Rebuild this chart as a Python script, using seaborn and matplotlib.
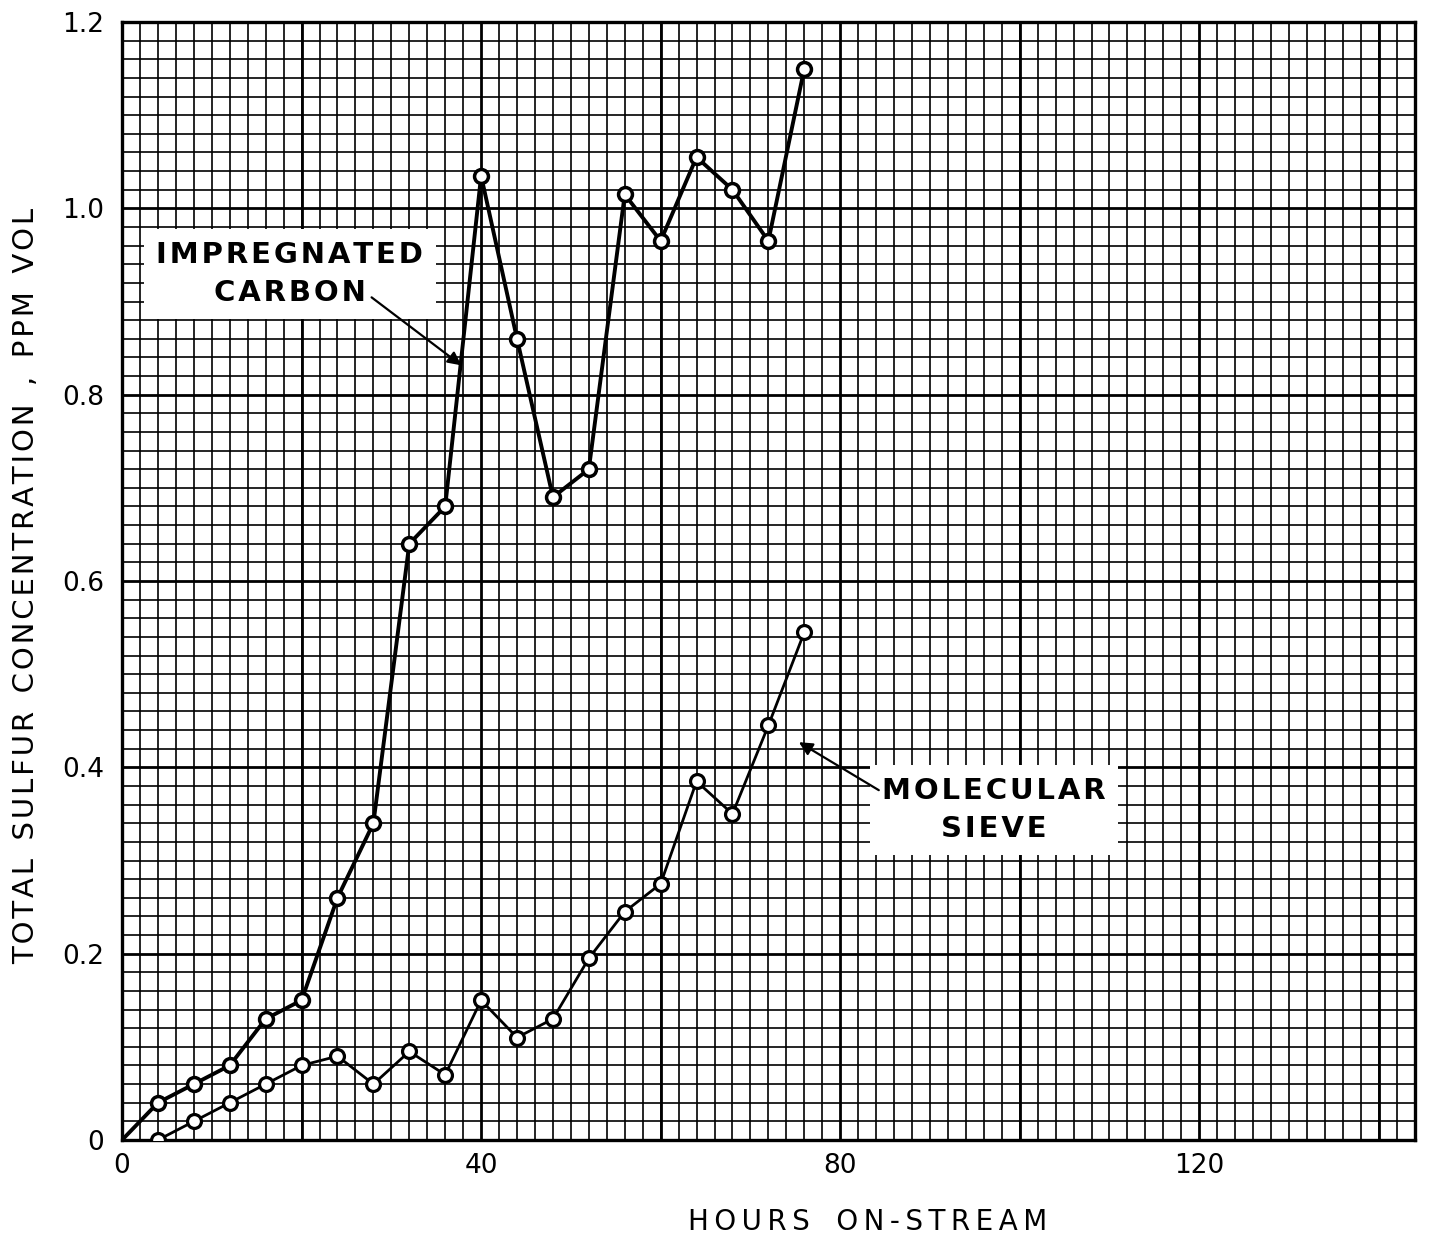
import numpy as np
import pandas as pd
import matplotlib
matplotlib.use("Agg")
import matplotlib.pyplot as plt
import seaborn as sns

# data
hours_carbon = [0, 4, 8, 12, 16, 20, 24, 28, 32, 36, 40, 44, 48, 52, 56, 60, 64, 68, 72, 76]
carbon = [0.0, 0.04, 0.06, 0.08, 0.13, 0.15, 0.26, 0.34, 0.64, 0.68, 1.035,
          0.86, 0.69, 0.72, 1.015, 0.965, 1.055, 1.02, 0.965, 1.15]

hours_sieve = [4, 8, 12, 16, 20, 24, 28, 32, 36, 40, 44, 48, 52, 56, 60, 64, 68, 72, 76]
sieve = [0.0, 0.02, 0.04, 0.06, 0.08, 0.09, 0.06, 0.095, 0.07, 0.15, 0.11,
         0.13, 0.195, 0.245, 0.275, 0.385, 0.35, 0.445, 0.545]

x_ticks = [0, 40, 80, 120]
y_ticks = [0, 0.2, 0.4, 0.6, 0.8, 1.0, 1.2]
y_tick_labels = ["0", "0.2", "0.4", "0.6", "0.8", "1.0", "1.2"]


def spaced(s, gap="\u200a", words="   "):
    # wide lettering like the stencil on the original: small space between letters
    return words.join(gap.join(w) for w in s.split(" "))


sns.set_style("white")
plt.rcParams['font.family'] = ['DejaVu Sans']
plt.rcParams['text.color'] = 'black'
plt.rcParams['axes.labelcolor'] = 'black'
plt.rcParams['xtick.color'] = 'black'
plt.rcParams['ytick.color'] = 'black'

fig = plt.figure(figsize=(14.29, 12.39), dpi=100)
ax = fig.add_axes([0.0854, 0.0799, 0.9046, 0.9023])

# graph paper: fine grid every 2 h / 0.02, heavier every 20 h / 0.2
ax.set_xticks(np.arange(0, 145, 2), minor=True)
ax.set_yticks(np.arange(0, 1.21, 0.02), minor=True)
ax.grid(which='minor', color='black', linewidth=1.2)
ax.grid(which='major', visible=False)
for gx in np.arange(0, 145, 20):
    ax.axvline(gx, color='black', linewidth=2.0, zorder=0.6)
for gy in np.arange(0, 1.21, 0.2):
    ax.axhline(gy, color='black', linewidth=2.0, zorder=0.6)
ax.set_axisbelow(True)

sns.lineplot(x=hours_carbon, y=carbon, ax=ax, color='black', linewidth=2.8,
             marker='o', markersize=10, markerfacecolor='white',
             markeredgecolor='black', markeredgewidth=2.5,
             markevery=list(range(1, len(carbon))), zorder=5)
sns.lineplot(x=hours_sieve, y=sieve, ax=ax, color='black', linewidth=2.0,
             marker='o', markersize=10, markerfacecolor='white',
             markeredgecolor='black', markeredgewidth=2.3, zorder=5)

ax.set_xlim(0, 144)
ax.set_ylim(0, 1.2)

ax.set_xticks(x_ticks)
ax.set_xticklabels([str(t) for t in x_ticks])
ax.set_yticks(y_ticks)
ax.set_yticklabels(y_tick_labels)
ax.tick_params(which='both', length=0, labelsize=19)
ax.tick_params(axis='x', pad=9)
ax.tick_params(axis='y', pad=13)
for s in ax.spines.values():
    s.set_linewidth(2.4)
    s.set_color('black')

ax.set_xlabel(spaced("HOURS ON-STREAM", gap="\u2009", words="   "), fontsize=20, va='center')
ax.xaxis.set_label_coords(0.577, -0.0733)
ax.set_ylabel(spaced("TOTAL SULFUR CONCENTRATION , PPM VOL", words="  "), fontsize=21, va='center')
ax.yaxis.set_label_coords(-0.0742, 0.496)

# labels on white patches, arrows drawn on top
box = dict(boxstyle='square,pad=0.42', facecolor='white', edgecolor='none')
ax.text(18.7, 0.9297, spaced("IMPREGNATED") + "\n" + spaced("CARBON"),
        ha='center', va='center', fontsize=21, fontweight='bold',
        linespacing=1.45, bbox=box, zorder=6)
ax.text(97.1, 0.354, spaced("MOLECULAR") + "\n" + spaced("SIEVE"),
        ha='center', va='center', fontsize=21, fontweight='bold',
        linespacing=1.45, bbox=box, zorder=6)
arrow = dict(arrowstyle='-|>', color='black', lw=1.6, shrinkA=0, shrinkB=0,
             mutation_scale=20)
ax.annotate("", xy=(37.8, 0.8315), xytext=(27.8, 0.9045),
            arrowprops=arrow, zorder=7)
ax.annotate("", xy=(75.4, 0.427), xytext=(84.3, 0.3755),
            arrowprops=arrow, zorder=7)

fig.savefig("out.png", dpi=100)
